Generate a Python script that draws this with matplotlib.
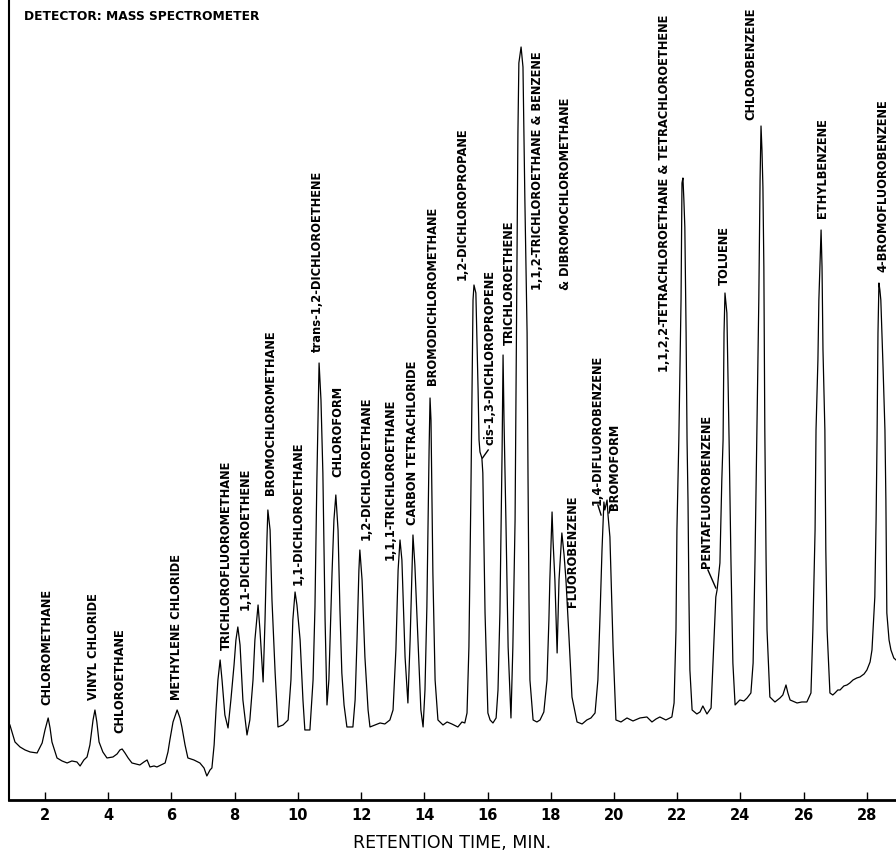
import matplotlib
matplotlib.use("Agg")
import matplotlib.pyplot as plt
from matplotlib import font_manager

# retention time (min) and detector response (arbitrary units)
times = [0.89, 1.05, 1.21, 1.37, 1.53, 1.75, 1.91, 2.00, 2.10, 2.16, 2.22, 2.38, 2.54, 2.70, 2.85, 3.01, 3.11,
         3.23, 3.33, 3.42, 3.52, 3.58, 3.64, 3.71, 3.83, 3.96, 4.15, 4.28, 4.37, 4.44, 4.53, 4.63, 4.75, 4.88,
         5.00, 5.13, 5.23, 5.32, 5.45, 5.54, 5.67, 5.80, 5.89, 5.95, 6.05, 6.18, 6.27, 6.33, 6.43, 6.52, 6.71,
         6.90, 7.03, 7.12, 7.22, 7.28, 7.35, 7.41, 7.47, 7.54, 7.60, 7.69, 7.79, 7.88, 7.98, 8.04, 8.10, 8.17,
         8.26, 8.39, 8.48, 8.58, 8.64, 8.74, 8.80, 8.90, 8.96, 9.02, 9.05, 9.12, 9.18, 9.28, 9.37, 9.53, 9.69,
         9.78, 9.84, 9.91, 9.97, 10.07, 10.16, 10.22, 10.38, 10.48, 10.54, 10.60, 10.67, 10.73, 10.79, 10.86,
         10.92, 10.98, 11.08, 11.14, 11.20, 11.27, 11.33, 11.39, 11.46, 11.55, 11.74, 11.81, 11.87, 11.93,
         11.96, 12.03, 12.12, 12.22, 12.28, 12.44, 12.60, 12.75, 12.91, 13.01, 13.10, 13.17, 13.23, 13.29,
         13.39, 13.48, 13.55, 13.64, 13.70, 13.80, 13.89, 13.96, 14.02, 14.08, 14.15, 14.18, 14.21, 14.27,
         14.34, 14.43, 14.59, 14.72, 14.87, 15.06, 15.19, 15.28, 15.35, 15.41, 15.47, 15.51, 15.54, 15.57,
         15.63, 15.66, 15.70, 15.73, 15.76, 15.82, 15.85, 15.92, 16.01, 16.08, 16.17, 16.27, 16.33, 16.39,
         16.42, 16.46, 16.49, 16.52, 16.58, 16.65, 16.74, 16.80, 16.87, 16.90, 16.93, 16.96, 16.99, 17.06,
         17.12, 17.18, 17.25, 17.28, 17.31, 17.34, 17.44, 17.56, 17.66, 17.78, 17.88, 17.94, 17.97, 18.04,
         18.07, 18.13, 18.20, 18.26, 18.35, 18.42, 18.48, 18.58, 18.67, 18.83, 18.99, 19.14, 19.27, 19.40,
         19.49, 19.56, 19.62, 19.68, 19.71, 19.78, 19.81, 19.87, 19.97, 20.06, 20.22, 20.41, 20.60, 20.82,
         21.04, 21.20, 21.33, 21.45, 21.64, 21.83, 21.90, 21.96, 21.99, 22.05, 22.12, 22.15, 22.18, 22.21,
         22.24, 22.28, 22.31, 22.34, 22.37, 22.40, 22.47, 22.62, 22.72, 22.81, 22.94, 23.07, 23.13, 23.22,
         23.26, 23.35, 23.41, 23.45, 23.48, 23.51, 23.57, 23.60, 23.64, 23.70, 23.76, 23.83, 23.98, 24.11,
         24.21, 24.33, 24.40, 24.46, 24.52, 24.55, 24.58, 24.62, 24.65, 24.68, 24.71, 24.74, 24.77, 24.81,
         24.84, 24.93, 25.09, 25.25, 25.34, 25.44, 25.50, 25.57, 25.79, 25.94, 26.10, 26.23, 26.29, 26.36,
         26.39, 26.45, 26.48, 26.55, 26.58, 26.61, 26.67, 26.70, 26.74, 26.83, 26.92, 26.99, 27.08, 27.15,
         27.27, 27.37, 27.46, 27.56, 27.68, 27.78, 27.91, 28.00, 28.10, 28.16, 28.25, 28.29, 28.32, 28.35,
         28.38, 28.41, 28.44, 28.51, 28.57, 28.60, 28.63, 28.70, 28.76, 28.85, 28.92]
response = [75, 58, 53, 50, 48, 47, 57, 70, 82, 72, 58, 42, 39, 37, 39, 38, 34,
            40, 43, 55, 80, 90, 78, 58, 48, 42, 43, 46, 50, 51, 47, 42, 37, 36,
            35, 38, 40, 33, 34, 33, 35, 37, 48, 60, 78, 90, 82, 73, 55, 42, 40,
            37, 32, 24, 30, 32, 55, 90, 120, 140, 120, 85, 72, 100, 135, 160, 173, 155,
            100, 65, 80, 120, 160, 195, 170, 118, 180, 260, 290, 270, 200, 127, 73, 75, 80,
            120, 180, 208, 195, 160, 100, 70, 70, 120, 193, 320, 437, 400, 327, 180,
            95, 120, 227, 280, 305, 270, 190, 127, 95, 73, 73, 100, 160, 230,
            250, 220, 143, 90, 73, 75, 77, 76, 80, 90, 150, 230, 260, 240,
            143, 97, 160, 265, 235, 160, 90, 73, 110, 193, 350, 402, 380, 227,
            120, 80, 75, 78, 76, 73, 78, 77, 87, 153, 300, 410, 500, 515,
            507, 467, 410, 360, 348, 342, 327, 187, 87, 80, 77, 82, 110, 187,
            260, 350, 445, 380, 280, 153, 82, 153, 280, 410, 533, 667, 737, 753,
            733, 600, 467, 320, 200, 120, 80, 78, 80, 88, 120, 180, 220, 288,
            260, 220, 147, 220, 267, 245, 220, 160, 103, 78, 76, 80, 82, 87,
            120, 187, 250, 298, 290, 300, 285, 263, 153, 80, 78, 82, 79, 82,
            83, 78, 81, 83, 80, 83, 97, 170, 270, 360, 500, 617, 622, 600,
            573, 467, 360, 300, 203, 130, 90, 86, 88, 94, 86, 92, 137, 203,
            210, 237, 320, 360, 467, 507, 487, 433, 360, 237, 137, 95, 100, 99,
            102, 107, 137, 240, 370, 440, 500, 620, 674, 650, 613, 533, 370, 240,
            170, 103, 98, 102, 105, 115, 107, 100, 97, 98, 98, 107, 170, 270,
            370, 440, 500, 570, 533, 450, 370, 250, 170, 107, 105, 107, 110, 110,
            114, 115, 117, 120, 122, 123, 126, 130, 138, 150, 203, 280, 360, 467,
            517, 510, 500, 433, 370, 300, 187, 160, 150, 142, 140]

compounds = ["CHLOROMETHANE", "VINYL CHLORIDE", "CHLOROETHANE", "METHYLENE CHLORIDE",
             "TRICHLOROFLUOROMETHANE", "1,1-DICHLOROETHENE", "BROMOCHLOROMETHANE",
             "1,1-DICHLOROETHANE", "trans-1,2-DICHLOROETHENE", "CHLOROFORM",
             "1,2-DICHLOROETHANE", "1,1,1-TRICHLOROETHANE", "CARBON TETRACHLORIDE",
             "BROMODICHLOROMETHANE", "1,2-DICHLOROPROPANE", "cis-1,3-DICHLOROPROPENE",
             "TRICHLOROETHENE", "1,1,2-TRICHLOROETHANE & BENZENE", "& DIBROMOCHLOROMETHANE",
             "FLUOROBENZENE", "1,4-DIFLUOROBENZENE", "BROMOFORM",
             "1,1,2,2-TETRACHLOROETHANE & TETRACHLOROETHENE", "PENTAFLUOROBENZENE",
             "TOLUENE", "CHLOROBENZENE", "ETHYLBENZENE", "4-BROMOFLUOROBENZENE"]
# where each label's lower end sits (time, response)
label_t = [2.06, 3.52, 4.37, 6.17, 7.73, 8.33, 9.12, 10.00, 10.63, 11.27, 12.15, 12.91, 13.61, 14.27,
           15.19, 16.08, 16.68, 17.59, 18.45, 18.70, 19.46, 20.00, 21.61, 22.91, 23.48, 24.33, 26.58, 28.51]
label_r = [95, 100, 67, 100, 150, 190, 305, 215, 448, 323, 260, 240, 275, 415,
           520, 355, 455, 510, 510, 193, 295, 290, 428, 232, 515, 680, 582, 528]
# short leader lines: (label end) -> (peak)
leaders = [((16.02, 350), (15.84, 342)),
           ((19.49, 295), (19.59, 285)),
           ((19.93, 295), (19.84, 287)),
           ((22.97, 230), (23.22, 212))]

names = {f.name for f in font_manager.fontManager.ttflist}
if "Liberation Sans Narrow" in names:
    lab_font, lab_size = "Liberation Sans Narrow", 11
else:
    lab_font, lab_size = "DejaVu Sans", 8.3

fig = plt.figure(figsize=(8.96, 8.6), dpi=100)
ax = fig.add_axes([0.01, 0.0698, 0.99, 0.9302])
ax.plot(times, response, color="black", lw=0.9)
ax.set_xlim(0.86, 28.92)
ax.set_ylim(0, 800)

for name, t, r in zip(compounds, label_t, label_r):
    ax.text(t, r, name, rotation=90, ha="center", va="bottom",
            family=[lab_font, "DejaVu Sans"], fontsize=lab_size, fontweight="bold")
for (a, b) in leaders:
    ax.plot([a[0], b[0]], [a[1], b[1]], color="black", lw=1)

ax.text(0.017, 0.987, "DETECTOR: MASS SPECTROMETER", transform=ax.transAxes, ha="left", va="top",
        family=[lab_font, "DejaVu Sans"], fontsize=lab_size + 0.5, fontweight="bold")

ax.spines["top"].set_visible(False)
ax.spines["right"].set_visible(False)
ax.spines["bottom"].set_linewidth(2)
ax.spines["left"].set_linewidth(1.5)
ax.set_xticks(range(2, 29, 2))
ax.set_yticks([])
ax.tick_params(axis="x", direction="in", length=6, width=1, labelsize=10.5, pad=6)
for lbl in ax.get_xticklabels():
    lbl.set_fontweight("bold")
ax.set_xlabel("RETENTION TIME, MIN.", fontsize=12.5, labelpad=8)

fig.savefig("out.png", dpi=100)
